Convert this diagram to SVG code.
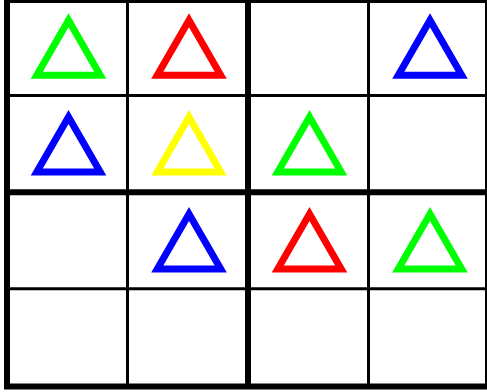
<svg xmlns="http://www.w3.org/2000/svg" width="487" height="392" viewBox="0 0 487 392">
  <style>
    .thin { stroke: #000; stroke-width: 3; fill: none; }
    .thick { stroke: #000; stroke-width: 6; fill: none; }
    .tri { fill: none; stroke-width: 7; stroke-linejoin: miter; stroke-miterlimit: 10; }
    .g { stroke: #00FF00; }
    .r { stroke: #FF0000; }
    .b { stroke: #0000FF; }
    .y { stroke: #FFFF00; }
  </style>
  <defs>
    <polygon id="t" points="0,0 -31.75,55 31.75,55"/>
  </defs>
  <rect x="0" y="0" width="487" height="392" fill="#ffffff"/>
  <g id="grid">
    <line class="thin" x1="127.5" y1="0" x2="127.5" y2="386.5"/>
    <line class="thin" x1="368.5" y1="0" x2="368.5" y2="386.5"/>
    <line class="thin" x1="7" y1="95.5" x2="488" y2="95.5"/>
    <line class="thin" x1="7" y1="288.8" x2="488" y2="288.8"/>
    <line class="thick" x1="248" y1="0" x2="248" y2="386.5"/>
    <line class="thick" x1="7" y1="192.3" x2="488" y2="192.3"/>
    <rect class="thick" x="7" y="0" width="481" height="386.5"/>
  </g>
  <g id="r1c1"><use href="#t" class="tri g" transform="translate(68.5,20.3)"/></g>
  <g id="r1c2"><use href="#t" class="tri r" transform="translate(189,20.3)"/></g>
  <g id="r1c4"><use href="#t" class="tri b" transform="translate(430,20.3)"/></g>
  <g id="r2c1"><use href="#t" class="tri b" transform="translate(68.5,117)"/></g>
  <g id="r2c2"><use href="#t" class="tri y" transform="translate(189,117)"/></g>
  <g id="r2c3"><use href="#t" class="tri g" transform="translate(309.5,117)"/></g>
  <g id="r3c2"><use href="#t" class="tri b" transform="translate(189,214)"/></g>
  <g id="r3c3"><use href="#t" class="tri r" transform="translate(309.5,214)"/></g>
  <g id="r3c4"><use href="#t" class="tri g" transform="translate(430,214)"/></g>
</svg>
